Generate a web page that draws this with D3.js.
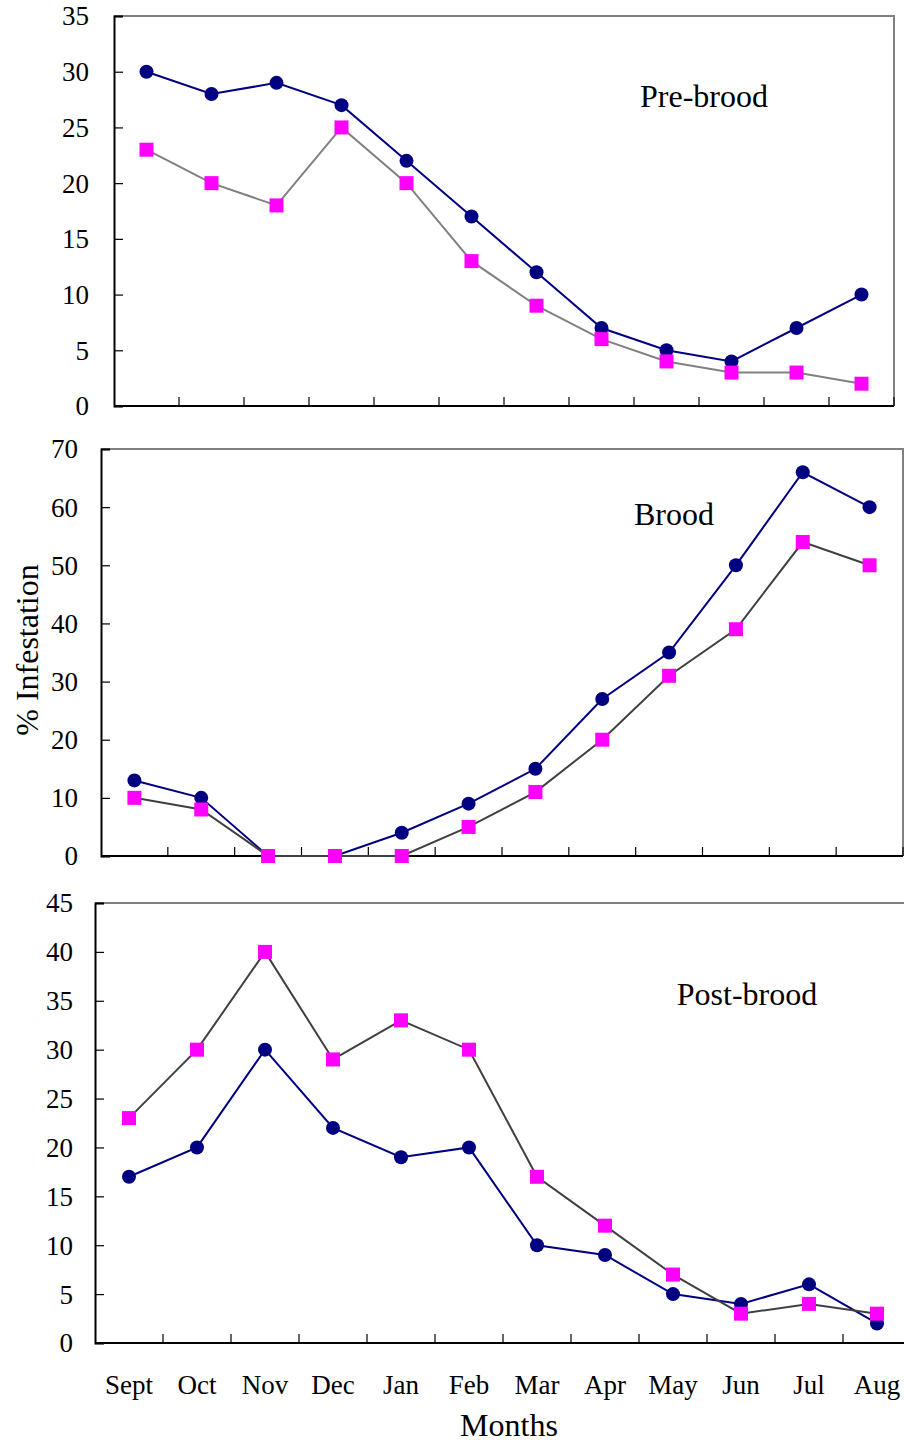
<!DOCTYPE html>
<html>
<head>
<meta charset="UTF-8">
<title>Infestation</title>
<script src="https://d3js.org/d3.v7.min.js"></script>
<style>
  body { margin: 0; background: #fff; }
  svg { font-family: "Liberation Serif", "Times New Roman", serif; }
  .tick-label { font-size: 27px; fill: #000; }
</style>
</head>
<body>
<svg width="904" height="1444"></svg>
<script>
const months = ['Sept', 'Oct', 'Nov', 'Dec', 'Jan', 'Feb', 'Mar', 'Apr', 'May', 'Jun', 'Jul', 'Aug'];

const preCircle = [30, 28, 29, 27, 22, 17, 12, 7, 5, 4, 7, 10];
const preSquare = [23, 20, 18, 25, 20, 13, 9, 6, 4, 3, 3, 2];
const broodCircle = [13, 10, 0, 0, 4, 9, 15, 27, 35, 50, 66, 60];
const broodSquare = [10, 8, 0, 0, 0, 5, 11, 20, 31, 39, 54, 50];
const postCircle = [17, 20, 30, 22, 19, 20, 10, 9, 5, 4, 6, 2];
const postSquare = [23, 30, 40, 29, 33, 30, 17, 12, 7, 3, 4, 3];

const panels = [
  { title: 'Pre-brood', circle: preCircle, square: preSquare, max: 35, step: 5,
    left: 114, right: 894, top: 16, bottom: 406, sqLine: '#808080', tx: 704, ty: 107, labelGap: 25 },
  { title: 'Brood', circle: broodCircle, square: broodSquare, max: 70, step: 10,
    left: 101, right: 903, top: 449, bottom: 856, sqLine: '#404040', tx: 674, ty: 525, labelGap: 23 },
  { title: 'Post-brood', circle: postCircle, square: postSquare, max: 45, step: 5,
    left: 95, right: 911, top: 903, bottom: 1343, sqLine: '#404040', tx: 747, ty: 1005, labelGap: 22 }
];

const svg = d3.select('svg');

panels.forEach((p, i) => {
  const x = d3.scaleBand().domain(months).range([p.left, p.right]);
  const y = d3.scaleLinear().domain([0, p.max]).range([p.bottom, p.top]);
  const g = svg.append('g');

  // frame: grey top/right
  g.append('path')
    .attr('d', `M${p.left},${p.top}H${p.right}V${p.bottom}`)
    .attr('fill', 'none').attr('stroke', '#808080').attr('stroke-width', 2);

  // y axis, ticks pointing inward
  const yAxis = g.append('g')
    .attr('transform', `translate(${p.left},0)`)
    .call(d3.axisRight(y).tickValues(d3.range(0, p.max + 1, p.step)).tickSize(9).tickFormat(''));
  yAxis.select('.domain').attr('stroke', '#000').attr('stroke-width', 2);
  yAxis.selectAll('.tick line').attr('stroke', '#000').attr('stroke-width', 1.2);

  g.selectAll('.ylab')
    .data(d3.range(0, p.max + 1, p.step))
    .enter().append('text')
    .attr('class', 'tick-label')
    .attr('x', p.left - p.labelGap)
    .attr('y', d => y(d))
    .attr('dy', '0.35em')
    .attr('text-anchor', 'end')
    .text(d => d);

  // x axis, ticks at band edges pointing up
  const edges = d3.range(0, months.length + 1).map(k => p.left + k * x.step());
  g.append('line')
    .attr('x1', p.left).attr('x2', p.right)
    .attr('y1', p.bottom).attr('y2', p.bottom)
    .attr('stroke', '#000').attr('stroke-width', 2);
  g.selectAll('.xtick')
    .data(edges.slice(1))
    .enter().append('line')
    .attr('x1', d => d).attr('x2', d => d)
    .attr('y1', p.bottom).attr('y2', p.bottom - 9)
    .attr('stroke', '#000').attr('stroke-width', 1.2);

  const cx = (d, k) => x(months[k]) + x.bandwidth() / 2;
  const line = d3.line().x(cx).y(d => y(d));

  // circle series
  g.append('path').datum(p.circle)
    .attr('d', line).attr('fill', 'none')
    .attr('stroke', '#000080').attr('stroke-width', 2);
  g.selectAll('.dot')
    .data(p.circle)
    .enter().append('circle')
    .attr('cx', cx).attr('cy', d => y(d)).attr('r', 7)
    .attr('fill', '#000080');

  // square series
  g.append('path').datum(p.square)
    .attr('d', line).attr('fill', 'none')
    .attr('stroke', p.sqLine).attr('stroke-width', 2);
  g.selectAll('.sq')
    .data(p.square)
    .enter().append('rect')
    .attr('x', (d, k) => cx(d, k) - 7).attr('y', d => y(d) - 7)
    .attr('width', 14).attr('height', 14)
    .attr('fill', '#ff00ff');

  g.append('text')
    .attr('x', p.tx).attr('y', p.ty)
    .attr('text-anchor', 'middle')
    .attr('font-size', 32)
    .text(p.title);

  if (i === panels.length - 1) {
    g.selectAll('.xlab')
      .data(months)
      .enter().append('text')
      .attr('class', 'tick-label')
      .attr('x', d => x(d) + x.bandwidth() / 2)
      .attr('y', 1394)
      .attr('text-anchor', 'middle')
      .text(d => d);
  }
});

svg.append('text')
  .attr('x', 509).attr('y', 1436)
  .attr('text-anchor', 'middle')
  .attr('font-size', 32)
  .text('Months');

svg.append('text')
  .attr('transform', 'translate(38,650) rotate(-90)')
  .attr('text-anchor', 'middle')
  .attr('font-size', 32)
  .text('% Infestation');
</script>
</body>
</html>
